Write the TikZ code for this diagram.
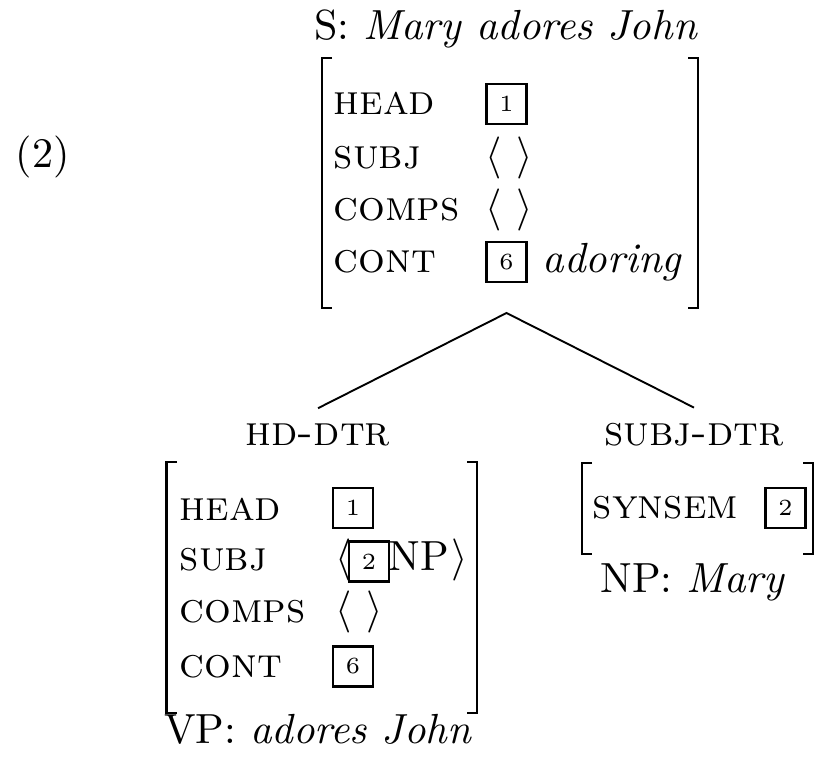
\documentclass[tikz,border=0pt]{standalone}
\begin{document}
\begin{tikzpicture}[x=0.2375pt, y=-0.2375pt,
  feat/.style={anchor=base west, inner sep=0pt, font=\scshape},
  val/.style={anchor=base west, inner sep=0pt},
  tag/.style={draw, line width=0.7pt, inner sep=0pt, minimum size=9.5pt, font=\fontsize{5.5}{6}\selectfont},
  brak/.style={line width=0.6pt},
  cat/.style={anchor=base, inner sep=0pt},
  dtr/.style={anchor=base, inner sep=0pt, outer sep=3.6pt, font=\scshape}]
\useasboundingbox (0,0) rectangle (823,762);

% Example number
\node[val] (ex) at (15,167) {(2)};

% Mother AVM
\node[cat] (s) at (506,40) {S: \textit{Mary adores John}};
\node[feat] (f1) at (333,115) {head};
\node[feat] (f2) at (333,168) {subj};
\node[feat] (f3) at (333,220) {comps};
\node[feat] (f4) at (333,272) {cont};
\node[tag] (t1) at (506.5,104) {1};
\node[val] (v2) at (485,168) {$\langle\ \rangle$};
\node[val] (v3) at (485,220) {$\langle\ \rangle$};
\node[tag] (t6) at (506.5,262) {6};
\node[val] (v4) at (542,272) {\textit{adoring}};
\draw[brak] (332,58) -- (322,58) -- (322,308) -- (332,308);
\draw[brak] (688,58) -- (698,58) -- (698,308) -- (688,308);

% Head daughter
\node[dtr] (hd) at (318,445) {hd-dtr};
\node[feat] (g1) at (179,520) {head};
\node[feat] (g2) at (179,570) {subj};
\node[feat] (g3) at (179,622) {comps};
\node[feat] (g4) at (179,677) {cont};
\node[tag] (h1) at (353,508) {1};
\node[val] (hl) at (335,570) {$\langle$};
\node[tag] (h2) at (369,561.5) {2};
\node[val] (hnp) at (388,570) {NP};
\node[val] (hr) at (451,570) {$\rangle$};
\node[val] (h3) at (335,622) {$\langle\ \rangle$};
\node[tag] (h6) at (353,666.5) {6};
\draw[brak] (177,462) -- (166.5,462) -- (166.5,713) -- (177,713);
\draw[brak] (467,462) -- (477,462) -- (477,713) -- (467,713);
\node[cat] (vp) at (318,743) {VP: \textit{adores John}};

% Subject daughter
\node[dtr] (sd) at (694,445) {subj-dtr};
\node[feat] (k1) at (592,518) {synsem};
\node[tag] (s2) at (785.5,508) {2};
\draw[brak] (592,463) -- (582,463) -- (582,554) -- (592,554);
\draw[brak] (803,463) -- (813,463) -- (813,554) -- (803,554);
\node[cat] (np) at (693,592) {NP: \textit{Mary}};

% Connections
\coordinate (apex) at (506.5,313);
\draw[line width=0.45pt] (hd.north) -- (apex) -- (sd.north);
\end{tikzpicture}
\end{document}
